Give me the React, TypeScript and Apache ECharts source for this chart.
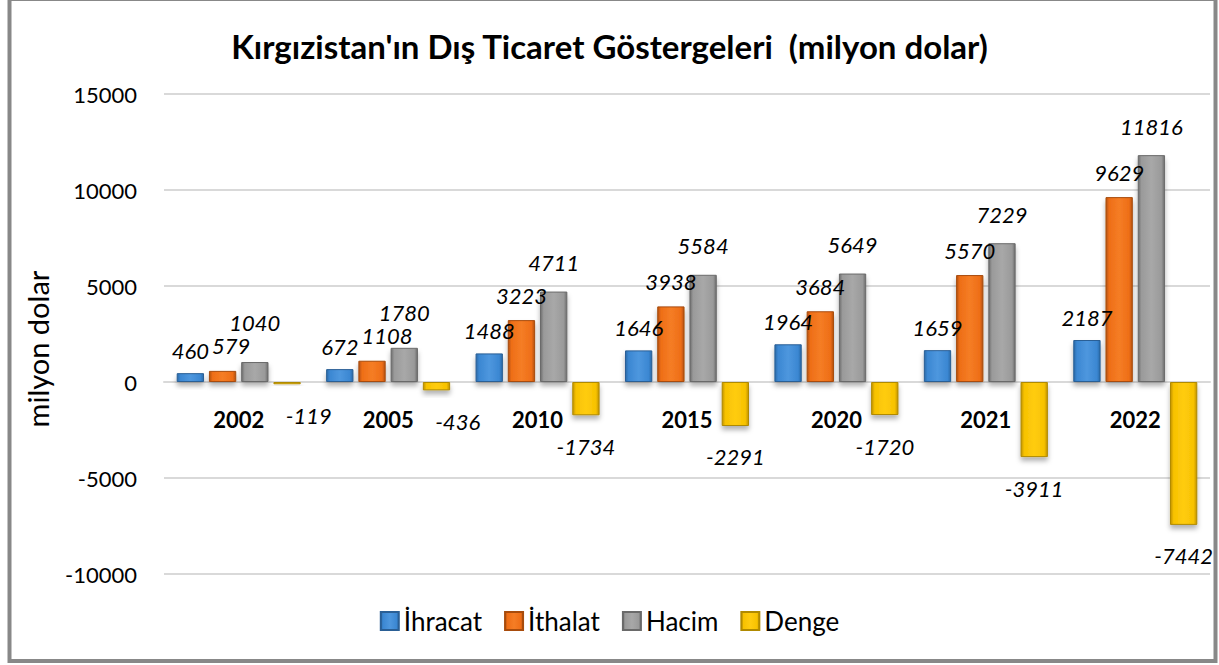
import React, { useEffect, useRef } from "react";
import * as echarts from "echarts";

const years = ["2002", "2005", "2010", "2015", "2020", "2021", "2022"];
const ihracat = [460, 672, 1488, 1646, 1964, 1659, 2187];
const ithalat = [579, 1108, 3223, 3938, 3684, 5570, 9629];
const hacim = [1040, 1780, 4711, 5584, 5649, 7229, 11816];
const denge = [-119, -436, -1734, -2291, -1720, -3911, -7442];
const seriesNames = ["İhracat", "İthalat", "Hacim", "Denge"];
const yTicks = { min: -10000, max: 15000, interval: 5000 };

const FONT = "Lato, 'Open Sans', sans-serif";

function grad(edge: string, mid: string, light: string) {
  return new echarts.graphic.LinearGradient(0, 0, 1, 0, [
    { offset: 0, color: edge },
    { offset: 0.12, color: mid },
    { offset: 0.5, color: light },
    { offset: 0.88, color: mid },
    { offset: 1, color: edge },
  ]);
}

type Rect = { x: number; y: number; width: number; height: number };
function overlaps(a: Rect, b: Rect) {
  return a.x < b.x + b.width && b.x < a.x + a.width && a.y < b.y + b.height && b.y < a.y + a.height;
}

export default function App() {
  const ref = useRef<HTMLDivElement>(null);
  useEffect(() => {
    if (!ref.current) return;
    const chart = echarts.init(ref.current, null, { renderer: "svg" });
    const YEAR_LABEL_GAP = 26;
    const YEAR_LABEL_HALF_W = 27;
    const YEAR_LABEL_BOTTOM_OFFSET = 50;
    const placed: Record<string, Rect> = {};
    const labelBase = {
      show: true,
      fontFamily: FONT,
      fontStyle: "italic" as const,
      fontSize: 22,
      color: "#000",
      formatter: (p: any) => String(p.value),
    };
    const styles = [
      { edge: "#2a6aa8", mid: "#3b87d2", light: "#4e97de", border: "#2a5f95", dist: 12 },
      { edge: "#b5520e", mid: "#ee6e17", light: "#f57d25", border: "#a84c0c", dist: 14 },
      { edge: "#6e6e6e", mid: "#9a9a9a", light: "#a8a8a8", border: "#6a6a6a", dist: 18 },
      { edge: "#c29300", mid: "#f7c200", light: "#ffcc10", border: "#b08a00", dist: 20 },
    ];
    const datas = [ihracat, ithalat, hacim, denge];

    // avoid overlapping the neighbouring series' label: İthalat moves right, Hacim moves up
    const positiveLayout = (si: number) => (params: any) => {
      const r: Rect = { ...params.labelRect };
      let dx = 0;
      let dy = 0;
      const prev = placed[`${si - 1}-${params.dataIndex}`];
      if (si > 0 && prev && overlaps(r, prev)) {
        if (si === 1) dx = prev.x + prev.width + 3 - r.x;
        else dy = prev.y - 1 - (r.y + r.height);
      }
      placed[`${si}-${params.dataIndex}`] = { ...r, x: r.x + dx, y: r.y + dy };
      const out: any = {};
      if (dx) out.dx = dx;
      if (dy) out.dy = dy;
      return out;
    };
    const dengeLayout = (params: any) => {
      const pt = chart.convertToPixel({ gridIndex: 0 }, [years[params.dataIndex], 0]) as number[];
      if (!pt) return {};
      const r = params.labelRect;
      const yearRight = pt[0] + YEAR_LABEL_HALF_W;
      const yearBottom = pt[1] + YEAR_LABEL_BOTTOM_OFFSET;
      if (r.y < yearBottom && r.x < yearRight + 20) {
        return { dx: yearRight + 20 - r.x };
      }
      return {};
    };

    const series: any[] = datas.map((d, i) => ({
      name: seriesNames[i],
      type: "bar" as const,
      data: d,
      barGap: "18%",
      barCategoryGap: "17%",
      itemStyle: {
        color: grad(styles[i].edge, styles[i].mid, styles[i].light),
        borderColor: styles[i].border,
        borderWidth: 1,
        shadowColor: "rgba(0,0,0,0.3)",
        shadowBlur: 5,
        shadowOffsetY: 4,
      },
      label: {
        ...labelBase,
        position: i === 3 ? ("bottom" as const) : ("top" as const),
        distance: styles[i].dist,
      },
      labelLayout: i === 3 ? dengeLayout : positiveLayout(i),
    }));
    // category names drawn just below the zero line
    series.push({
      name: "years",
      type: "custom",
      data: years.map((y) => [y, 0]),
      silent: true,
      z: 5,
      renderItem: (params: any, api: any) => {
        const p = api.coord([api.value(0), api.value(1)]);
        return {
          type: "text",
          x: p[0],
          y: p[1] + YEAR_LABEL_GAP,
          style: {
            text: years[params.dataIndex],
            fontFamily: FONT,
            fontWeight: "bold",
            fontSize: 22,
            fill: "#000",
            align: "center",
            verticalAlign: "top",
          },
        };
      },
    });
    chart.setOption({
      animation: false,
      backgroundColor: "#fff",
      title: {
        text: "Kırgızistan'ın Dış Ticaret Göstergeleri  (milyon dolar)",
        left: "center",
        top: 24,
        textStyle: { fontFamily: FONT, fontWeight: "bold", fontSize: 33, color: "#000" },
      },
      legend: {
        bottom: 26,
        left: "center",
        icon: "rect",
        itemWidth: 18,
        itemHeight: 18,
        itemGap: 22,
        textStyle: { fontFamily: FONT, fontSize: 26, color: "#000" },
        data: seriesNames,
      },
      grid: { left: 164, right: 9, top: 94, bottom: 91, containLabel: false },
      xAxis: {
        type: "category",
        data: years,
        axisLine: { show: true, onZero: true, lineStyle: { color: "#d9d9d9", width: 2 } },
        axisTick: { show: false },
        axisLabel: { show: false },
      },
      yAxis: {
        type: "value",
        min: yTicks.min,
        max: yTicks.max,
        interval: yTicks.interval,
        axisLine: { show: false },
        axisTick: { show: false },
        splitLine: { lineStyle: { color: "#d9d9d9", width: 2 } },
        axisLabel: {
          margin: 27,
          fontFamily: FONT,
          fontSize: 22,
          color: "#000",
          formatter: (v: number) => String(v),
        },
      },
      graphic: [
        {
          type: "text",
          x: 37,
          y: 349,
          rotation: Math.PI / 2,
          style: {
            text: "milyon dolar",
            fontFamily: FONT,
            fontSize: 29,
            fill: "#000",
            align: "center",
            verticalAlign: "middle",
          },
        },
        {
          type: "rect",
          shape: { x: 9.5, y: -1, width: 1206, height: 662 },
          style: { fill: "none", stroke: "#888", lineWidth: 4 },
          silent: true,
        },
      ],
      series,
    });
    return () => chart.dispose();
  }, []);
  return (
    <div
      ref={ref}
      style={{ position: "absolute", left: 0, top: 0, width: 1219, height: 665 }}
    />
  );
}
